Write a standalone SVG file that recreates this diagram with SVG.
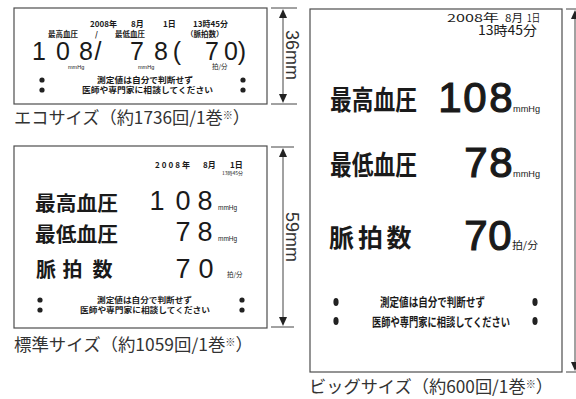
<svg xmlns="http://www.w3.org/2000/svg" width="576" height="399" viewBox="0 0 576 399">
<defs>
<style>
.frame{fill:#fff;stroke:#4d4d4d;stroke-width:1.2}
.jp{font-family:"Noto Sans CJK JP","Noto Sans CJK SC",sans-serif;fill:#1a1a1a}
.b{font-weight:700}
.num{font-family:"Liberation Sans",Arial,sans-serif;fill:#1a1a1a;text-anchor:middle}
.heavy{stroke:#1a1a1a;stroke-width:1.2}
.u{font-family:"Liberation Sans",Arial,sans-serif;fill:#1a1a1a}
.cap{font-family:"Noto Sans CJK JP",sans-serif;font-size:17px;fill:#333}
.dim{stroke:#444;stroke-width:1;fill:none}
.ah{fill:#222}
.dimt{font-family:"Liberation Sans",Arial,sans-serif;font-size:18px;fill:#333;text-anchor:middle}
</style>
</defs>
<rect width="576" height="399" fill="#fff"/>

<g id="eco">
<rect class="frame" x="14" y="8" width="253" height="96"/>
<text class="jp b" font-size="8" y="27"><tspan x="90">2008年</tspan><tspan x="131">8月</tspan><tspan x="163">1日</tspan><tspan x="193">13時45分</tspan></text>
<text class="jp b" font-size="7.5" y="37"><tspan x="48">最高血圧</tspan><tspan x="95">/</tspan><tspan x="115">最低血圧</tspan><tspan x="186">（脈拍数）</tspan></text>
<text class="num" font-size="25" y="60" x="39 63 86 98 137 161 177 212 231 242">108/78(70)</text>
<text class="u" font-size="5.5" y="69"><tspan x="68">mmHg</tspan><tspan x="138">mmHg</tspan></text>
<text class="jp" font-size="6.5" x="212" y="69">拍/分</text>
<circle class="ah" cx="42" cy="80" r="2.6"/><circle class="ah" cx="42" cy="90" r="2.6"/>
<circle class="ah" cx="243" cy="80" r="2.6"/><circle class="ah" cx="243" cy="90" r="2.6"/>
<text class="jp b" font-size="8" x="97" y="83" textLength="96" lengthAdjust="spacingAndGlyphs">測定値は自分で判断せず</text>
<text class="jp b" font-size="8" x="82" y="93" textLength="131" lengthAdjust="spacingAndGlyphs">医師や専門家に相談してください</text>
</g>

<g id="standard">
<rect class="frame" x="14" y="146" width="253" height="182"/>
<text class="jp b" font-size="8" y="168"><tspan x="155" textLength="35" lengthAdjust="spacing">2008年</tspan></text>
<text class="jp b" font-size="8" y="168"><tspan x="203">8月</tspan><tspan x="230">1日</tspan></text>
<text class="jp" font-size="5" x="222" y="175">13時45分</text>
<text class="jp b" font-size="20" x="35" y="211" textLength="83" lengthAdjust="spacingAndGlyphs">最高血圧</text>
<text class="jp b" font-size="20" x="35" y="242" textLength="83" lengthAdjust="spacingAndGlyphs">最低血圧</text>
<text class="jp b" font-size="20" y="277" x="46 72.5 102.5" text-anchor="middle">脈拍数</text>
<text class="num" font-size="27" y="210" x="157 183 205">108</text>
<text class="num" font-size="27" y="241" x="183 205">78</text>
<text class="num" font-size="27" y="278" x="183 206">70</text>
<text class="u" font-size="6.5" x="218" y="210">mmHg</text>
<text class="u" font-size="6.5" x="218" y="241">mmHg</text>
<text class="jp" font-size="6.5" x="227" y="277">拍/分</text>
<circle class="ah" cx="40" cy="300" r="2.6"/><circle class="ah" cx="40" cy="310" r="2.6"/>
<circle class="ah" cx="242" cy="300" r="2.6"/><circle class="ah" cx="242" cy="310" r="2.6"/>
<text class="jp b" font-size="7.5" x="97" y="303" textLength="95" lengthAdjust="spacingAndGlyphs">測定値は自分で判断せず</text>
<text class="jp b" font-size="7.5" x="80" y="313" textLength="130" lengthAdjust="spacingAndGlyphs">医師や専門家に相談してください</text>
</g>

<g id="big">
<rect class="frame" x="310" y="9" width="252" height="363"/>
<text class="jp" font-size="11" x="447" y="22" textLength="52" lengthAdjust="spacingAndGlyphs">2008年</text>
<text class="jp" font-size="11" x="505" y="22" textLength="18" lengthAdjust="spacingAndGlyphs">8月</text>
<text class="jp" font-size="11" x="527" y="22" textLength="13" lengthAdjust="spacingAndGlyphs">1日</text>
<text class="jp" font-size="13" x="478" y="35" textLength="59" lengthAdjust="spacingAndGlyphs">13時45分</text>
<text class="jp b" font-size="27" x="330" y="110" textLength="87" lengthAdjust="spacingAndGlyphs">最高血圧</text>
<text class="jp b" font-size="27" x="330" y="175" textLength="87" lengthAdjust="spacingAndGlyphs">最低血圧</text>
<text class="jp b" font-size="25" y="247" x="341.5 370.5 399" text-anchor="middle">脈拍数</text>
<text class="num heavy" font-size="42" y="112" x="450 475 501">108</text>
<text class="num heavy" font-size="42" y="177" x="476 501">78</text>
<text class="num heavy" font-size="42" y="250" x="476 500">70</text>
<text class="u" font-size="9" x="513" y="112" textLength="27" lengthAdjust="spacingAndGlyphs">mmHg</text>
<text class="u" font-size="9" x="513" y="177" textLength="27" lengthAdjust="spacingAndGlyphs">mmHg</text>
<text class="jp" font-size="10" x="512" y="249" textLength="26" lengthAdjust="spacingAndGlyphs">拍/分</text>
<ellipse class="ah" cx="336" cy="302" rx="2.6" ry="4"/><ellipse class="ah" cx="336" cy="321" rx="2.6" ry="4"/>
<ellipse class="ah" cx="535" cy="302" rx="2.6" ry="4"/><ellipse class="ah" cx="535" cy="321" rx="2.6" ry="4"/>
<text class="jp b" font-size="12" x="380" y="307" textLength="105" lengthAdjust="spacingAndGlyphs">測定値は自分で判断せず</text>
<text class="jp b" font-size="12" x="372" y="327" textLength="138" lengthAdjust="spacingAndGlyphs">医師や専門家に相談してください</text>
</g>

<g id="connectors">
<line class="dim" x1="271" y1="8" x2="297" y2="8"/>
<line class="dim" x1="271" y1="104" x2="297" y2="104"/>
<line class="dim" x1="283" y1="12" x2="283" y2="100"/>
<polygon class="ah" points="283,9 279,18 287,18"/>
<polygon class="ah" points="283,103 279,94 287,94"/>
<line class="dim" x1="271" y1="147" x2="294" y2="147"/>
<line class="dim" x1="271" y1="327" x2="294" y2="327"/>
<line class="dim" x1="283" y1="151" x2="283" y2="323"/>
<polygon class="ah" points="283,148 279,157 287,157"/>
<polygon class="ah" points="283,326 279,317 287,317"/>
<line class="dim" x1="566" y1="9" x2="576" y2="9"/>
<line class="dim" x1="566" y1="372" x2="576" y2="372"/>
<line class="dim" x1="575" y1="13" x2="575" y2="368"/>
<polygon class="ah" points="575,10 571,19 579,19"/>
<polygon class="ah" points="575,371 571,362 579,362"/>
</g>

<g id="labels">
<text class="dimt" transform="translate(286,55) rotate(90)">36mm</text>
<text class="dimt" transform="translate(286,237) rotate(90)">59mm</text>
<text class="cap" x="14" y="124" textLength="236" lengthAdjust="spacingAndGlyphs">エコサイズ（約1736回/1巻<tspan font-size="10" dy="-5">※</tspan><tspan dy="5">）</tspan></text>
<text class="cap" x="14" y="351" textLength="239" lengthAdjust="spacingAndGlyphs">標準サイズ（約1059回/1巻<tspan font-size="10" dy="-5">※</tspan><tspan dy="5">）</tspan></text>
<text class="cap" x="309" y="393" textLength="244" lengthAdjust="spacingAndGlyphs">ビッグサイズ（約600回/1巻<tspan font-size="10" dy="-5">※</tspan><tspan dy="5">）</tspan></text>
</g>
</svg>
